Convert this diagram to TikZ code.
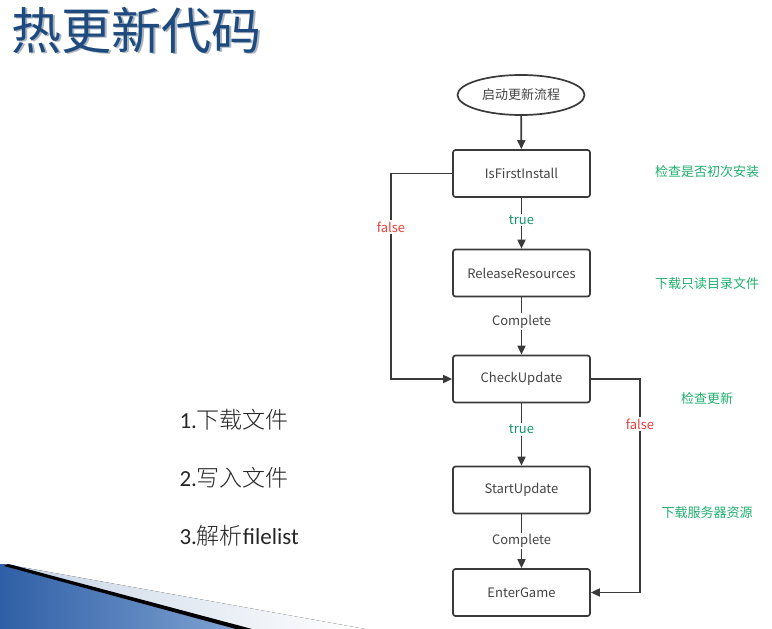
\documentclass[tikz,border=0pt]{standalone}
\usepackage{fontspec}
\setmainfont{Carlito}
\newfontfamily\cjk{Noto Sans CJK SC}
\newfontfamily\cjklight{Noto Sans CJK SC Light}
\usetikzlibrary{arrows.meta,shapes.geometric}
\definecolor{titleblue}{HTML}{1F4A7E}
\definecolor{titleshadow}{HTML}{A9B4C2}
\definecolor{linegray}{HTML}{3A3A3A}
\definecolor{txtgray}{HTML}{444444}
\definecolor{notegreen}{HTML}{1FAF6E}
\definecolor{falsered}{HTML}{E8413C}
\definecolor{truegreen}{HTML}{14936A}
\definecolor{wedgeblueA}{HTML}{2F5FA6}
\definecolor{wedgeblueB}{HTML}{7FA3D2}
\definecolor{wedgelight}{HTML}{C8D5E6}
\tikzset{
  x=1pt,y=-1pt,
  stepbox/.style={draw=linegray,line width=1.7pt,rounded corners=2.5pt,minimum width=137pt,minimum height=47pt,inner sep=0pt,font=\cjk\fontsize{13}{15}\selectfont,text=txtgray},
  startnode/.style={ellipse,draw=linegray,line width=1.7pt,minimum width=127pt,minimum height=40pt,inner sep=0pt,font=\cjk\fontsize{13}{15}\selectfont,text=txtgray},
  conn/.style={draw=linegray,line width=1.7pt,-{Triangle[length=9pt,width=8pt]}},
  lbl/.style={fill=white,inner sep=1.5pt,font=\cjk\fontsize{13}{15}\selectfont},
  note/.style={font=\cjk\fontsize{13}{15}\selectfont,text=notegreen},
  listitem/.style={anchor=west,font=\fontsize{23}{26}\selectfont,text=black!85}
}
\begin{document}
\begin{tikzpicture}
\useasboundingbox (0,0) rectangle (772,629);
\fill[white] (0,0) rectangle (772,629);
% bottom-left decoration
\fill[left color=wedgelight,right color=white] (10,565) -- (365,629) -- (240,629) -- cycle;
\fill[left color=wedgeblueA,right color=wedgeblueB] (0,564) -- (12,565) -- (238,629) -- (0,629) -- cycle;
\fill[black] (8,564) -- (252,629) -- (236,629) -- (4,566) -- cycle;
% title with soft shadow
\node[anchor=west,text=titleblue,font=\cjk\fontsize{50}{56}\selectfont] (title) at (8,31)
  {\rlap{\raisebox{-1.5pt}{\hspace{1.5pt}\textcolor{titleshadow}{热更新代码}}}热更新代码};
% flowchart
\node[startnode] (start) at (521,95) {启动更新流程};
\node[stepbox] (first) at (521.5,173.5) {IsFirstInstall};
\node[stepbox] (release) at (521.5,273) {ReleaseResources};
\node[stepbox] (check) at (521.5,379) {CheckUpdate};
\node[stepbox] (startup) at (521.5,490) {StartUpdate};
\node[stepbox] (enter) at (521.5,592.5) {EnterGame};
\coordinate (lt) at (391,173.5);
\coordinate (lb) at (391,379);
\coordinate (rt) at (640,379);
\coordinate (rb) at (640,592.5);
\draw[conn] (start) -- (first);
\draw[conn] (first) -- node[lbl,text=truegreen,pos=0.44] (t1) {true} (release);
\draw[conn] (release) -- node[lbl,text=txtgray,pos=0.42] (c1) {Complete} (check);
\draw[conn] (check) -- node[lbl,text=truegreen,pos=0.42] (t2) {true} (startup);
\draw[conn] (startup) -- node[lbl,text=txtgray,pos=0.5] (c2) {Complete} (enter);
\draw[conn] (first.west) -- (lt) -- node[lbl,text=falsered,pos=0.26] (f1) {false} (lb) -- (check.west);
\draw[conn] (check.east) -- (rt) -- node[lbl,text=falsered,pos=0.21] (f2) {false} (rb) -- (enter.east);
% notes
\node[note] (n1) at (707,172) {检查是否初次安装};
\node[note] (n2) at (707,284) {下载只读目录文件};
\node[note] (n3) at (707,399) {检查更新};
\node[note] (n4) at (707,513) {下载服务器资源};
% list
\node[listitem] (l1) at (176,420) {1.{\cjklight 下载文件}};
\node[listitem] (l2) at (176,478) {2.{\cjklight 写入文件}};
\node[listitem] (l3) at (176,536) {3.{\cjklight 解析}filelist};
\end{tikzpicture}
\end{document}
